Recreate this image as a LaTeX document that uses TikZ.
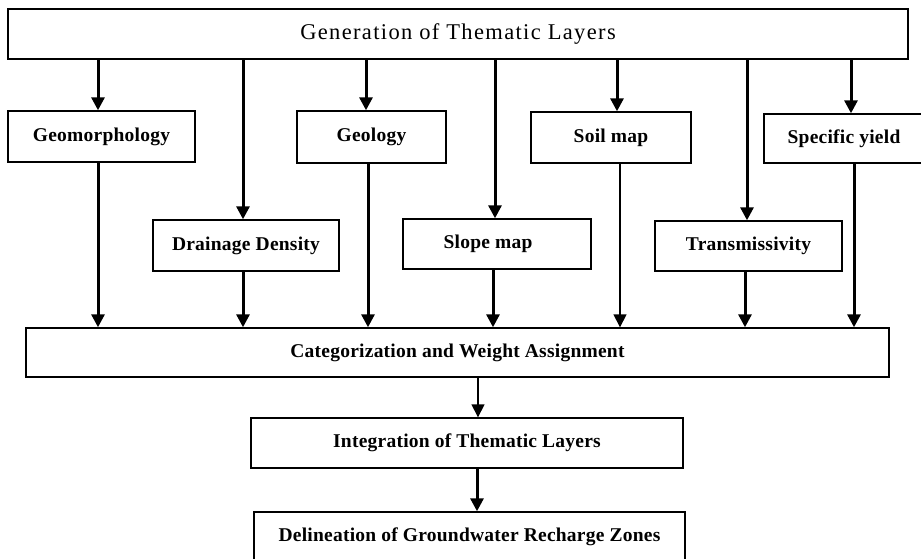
\documentclass[tikz,border=0pt]{standalone}
\usepackage{fontspec}
\setmainfont{Liberation Serif}
\newfontfamily\lblfont[LetterSpace=1.2]{Liberation Serif}
\newfontfamily\ttlfont[LetterSpace=6]{Liberation Serif}
\usetikzlibrary{arrows.meta}
\tikzset{
  box/.style={draw=black, line width=1.4pt, fill=white, inner sep=0pt, font=\lblfont\fontsize{19.5}{22}\selectfont\bfseries},
  arr/.style={draw=black, line width=3pt, -{Triangle[length=13pt,width=13pt]}},
  thinarr/.style={draw=black, line width=1.6pt, -{Triangle[length=13pt,width=13pt]}}
}
\begin{document}
\begin{tikzpicture}[x=1pt,y=-1pt]
\useasboundingbox (0,0) rectangle (921,559);
\fill[white] (0,0) rectangle (921,559);

\node[box, minimum width=900pt, minimum height=50pt, font=\ttlfont\fontsize{22.5}{25}\selectfont] (top) at (458,34) {\raisebox{2pt}{Generation of Thematic Layers}};

\node[box, minimum width=187pt, minimum height=51pt] (geom) at (101.5,136.5) {\raisebox{2pt}{Geomorphology}};
\node[box, minimum width=149pt, minimum height=52pt] (geol) at (371.5,137) {\raisebox{2pt}{Geology}};
\node[box, minimum width=160pt, minimum height=51pt] (soil) at (611,137.5) {\raisebox{2pt}{Soil map}};
\node[box, minimum width=166pt, minimum height=49pt] (spec) at (847,138.5) {Specific yield\hspace*{6pt}};

\node[box, minimum width=186pt, minimum height=51pt] (drain) at (246,245.5) {Drainage Density};
\node[box, minimum width=188pt, minimum height=50pt] (slope) at (497,244) {\raisebox{4pt}{Slope map}\hspace*{18pt}};
\node[box, minimum width=187pt, minimum height=50pt] (trans) at (748.5,246) {Transmissivity};

\node[box, minimum width=863pt, minimum height=49pt] (cat) at (457.5,352.5) {\raisebox{2pt}{Categorization and Weight Assignment}};
\node[box, minimum width=432pt, minimum height=50pt] (integ) at (467,443) {\raisebox{3pt}{Integration of Thematic Layers}};
\node[box, minimum width=431pt, minimum height=50pt] (delin) at (469.5,537) {\raisebox{5pt}{Delineation of Groundwater Recharge Zones}};

% from top layer
\draw[arr] ([xshift=-3.5pt]geom.north |- top.south) -- ([xshift=-3.5pt]geom.north);
\draw[arr] ([xshift=-3pt]drain.north |- top.south) -- ([xshift=-3pt]drain.north);
\draw[arr] ([xshift=-5.5pt]geol.north |- top.south) -- ([xshift=-5.5pt]geol.north);
\draw[arr] ([xshift=-2pt]slope.north |- top.south) -- ([xshift=-2pt]slope.north);
\draw[arr] ([xshift=6pt]soil.north |- top.south) -- ([xshift=6pt]soil.north);
\draw[arr] ([xshift=-1.5pt]trans.north |- top.south) -- ([xshift=-1.5pt]trans.north);
\draw[arr] ([xshift=4pt]spec.north |- top.south) -- ([xshift=4pt]spec.north);

% to categorization
\draw[arr] ([xshift=-3.5pt]geom.south) -- ([xshift=-3.5pt]geom.south |- cat.north);
\draw[arr] ([xshift=-3pt]drain.south) -- ([xshift=-3pt]drain.south |- cat.north);
\draw[arr] ([xshift=-3.5pt]geol.south) -- ([xshift=-3.5pt]geol.south |- cat.north);
\draw[arr] ([xshift=-4pt]slope.south) -- ([xshift=-4pt]slope.south |- cat.north);
\draw[thinarr] ([xshift=9pt]soil.south) -- ([xshift=9pt]soil.south |- cat.north);
\draw[arr] ([xshift=-3.5pt]trans.south) -- ([xshift=-3.5pt]trans.south |- cat.north);
\draw[arr] ([xshift=7pt]spec.south) -- ([xshift=7pt]spec.south |- cat.north);

% lower chain
\draw[thinarr] ([xshift=11pt]integ.north |- cat.south) -- ([xshift=11pt]integ.north);
\draw[arr] ([xshift=10pt]integ.south) -- ([xshift=10pt]integ.south |- delin.north);
\end{tikzpicture}
\end{document}
